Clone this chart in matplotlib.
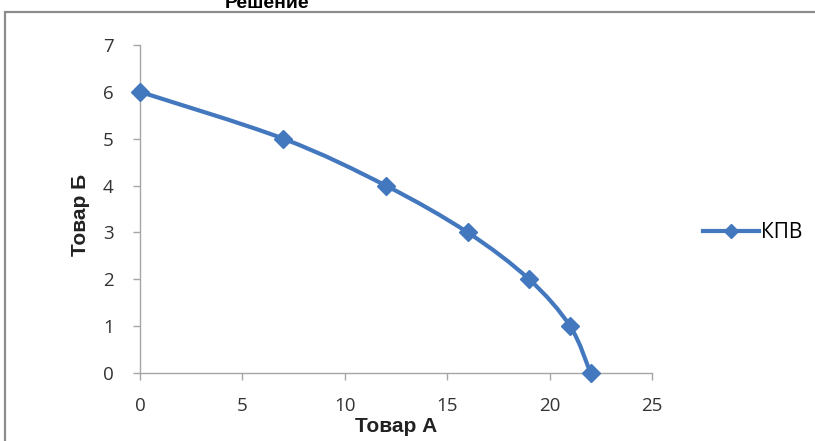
"""
Кривая производственных возможностей (КПВ): Товар А против Товар Б.
"""

import matplotlib
matplotlib.use("Agg")
import matplotlib.pyplot as plt
from matplotlib.path import Path
from matplotlib.patches import PathPatch, Rectangle
from matplotlib.lines import Line2D

# данные
tovar_a = [0, 7, 12, 16, 19, 21, 22]
tovar_b = [6, 5, 4, 3, 2, 1, 0]
x_ticks = [0, 5, 10, 15, 20, 25]
y_ticks = [0, 1, 2, 3, 4, 5, 6, 7]
nazvanie = "Решение"
podpis_x = "Товар А"
podpis_y = "Товар Б"
legenda = "КПВ"

COLOR_LINE = "#4378BF"
COLOR_AXIS = "#A6A6A6"
COLOR_TEXT = "#333333"


def gladkaya_liniya(xs, ys):
    """Сглаженная линия (как в Excel) через кубические кривые Безье."""
    pts = list(zip(xs, ys))
    n = len(pts)
    verts = [pts[0]]
    codes = [Path.MOVETO]
    for i in range(n - 1):
        p0 = pts[i - 1] if i > 0 else pts[i]
        p1 = pts[i]
        p2 = pts[i + 1]
        p3 = pts[i + 2] if i + 2 < n else pts[i + 1]
        c1 = (p1[0] + (p2[0] - p0[0]) / 6, p1[1] + (p2[1] - p0[1]) / 6)
        c2 = (p2[0] - (p3[0] - p1[0]) / 6, p2[1] - (p3[1] - p1[1]) / 6)
        verts += [c1, c2, p2]
        codes += [Path.CURVE4] * 3
    return Path(verts, codes)


fig = plt.figure(figsize=(8.15, 4.41), dpi=100)

# рамка области диаграммы
fig.patches.append(Rectangle((5 / 815, -0.1), 1.2, 1 - 12 / 441 + 0.1,
                             transform=fig.transFigure, fill=False,
                             edgecolor="#8C8C8C", linewidth=1.6))

ax = fig.add_axes([140 / 815, 1 - 373 / 441, 512 / 815, 328 / 441])
ax.set_xlim(0, 25)
ax.set_ylim(0, 7)

patch = PathPatch(gladkaya_liniya(tovar_a, tovar_b), facecolor="none",
                  edgecolor=COLOR_LINE, linewidth=3.0, clip_on=False, zorder=3)
ax.add_patch(patch)
ax.plot(tovar_a, tovar_b, linestyle="none", marker="D", markersize=9.5,
        color=COLOR_LINE, clip_on=False, zorder=4)

for side in ["top", "right"]:
    ax.spines[side].set_visible(False)
for side in ["left", "bottom"]:
    ax.spines[side].set_color(COLOR_AXIS)
    ax.spines[side].set_linewidth(1.0)

ax.set_xticks(x_ticks)
ax.set_yticks(y_ticks)
ax.tick_params(axis="both", direction="out", length=5, width=1.0,
               color=COLOR_AXIS, labelcolor=COLOR_TEXT, labelsize=13.5)
ax.tick_params(axis="x", pad=12)
ax.tick_params(axis="y", pad=14)
for lab in ax.get_xticklabels() + ax.get_yticklabels():
    lab.set_fontfamily("Open Sans")

fig.text(267 / 815, 1 - 3 / 441, nazvanie, ha="center", va="center",
         fontsize=14, fontweight="bold", family="Liberation Sans")
fig.text(396 / 815, 1 - 426 / 441, podpis_x, ha="center", va="center",
         fontsize=15, fontweight="bold", family="Liberation Sans", color="#222222")
fig.text(81 / 815, 1 - 215 / 441, podpis_y, ha="center", va="center",
         rotation=90, fontsize=15, fontweight="bold", family="Liberation Sans",
         color="#222222")

handle = Line2D([], [], color=COLOR_LINE, linewidth=3.0, marker="D",
                markersize=7)
fig.legend([handle], [legenda], loc="center left",
           bbox_to_anchor=(684 / 815, 1 - 233 / 441), frameon=False,
           handlelength=2.7, handletextpad=0.1,
           prop={"family": "Open Sans", "size": 15})

fig.savefig("out.png", dpi=100)
plt.close(fig)
